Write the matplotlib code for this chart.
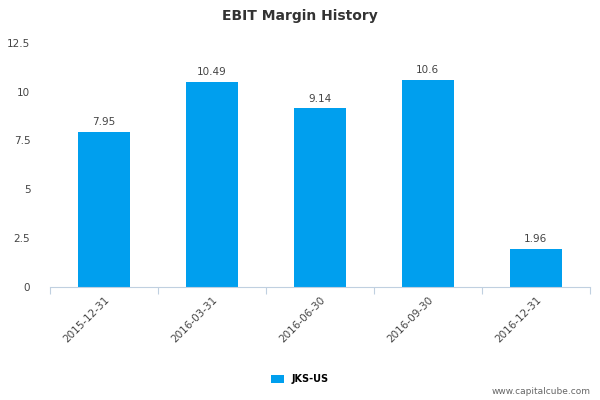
import matplotlib.pyplot as plt

categories = ["2015-12-31", "2016-03-31", "2016-06-30", "2016-09-30", "2016-12-31"]
values = [7.95, 10.49, 9.14, 10.6, 1.96]
labels = ["7.95", "10.49", "9.14", "10.6", "1.96"]
yticks = [0, 2.5, 5, 7.5, 10, 12.5]
ytick_labels = ["0", "2.5", "5", "7.5", "10", "12.5"]

color = "#009FEE"

fig = plt.figure(figsize=(6, 4), dpi=100)
ax = fig.add_axes([0.083, 0.283, 0.9, 0.61])

x = range(len(categories))
bars = ax.bar(x, values, width=0.48, color=color, label="JKS-US")
for xi, v, lab in zip(x, values, labels):
    ax.text(xi, v + 0.25, lab, ha="center", va="bottom", fontsize=7.5, color="#444444")

ax.set_xlim(-0.5, len(categories) - 0.5)
ax.set_ylim(0, 12.5)
ax.set_yticks(yticks)
ax.set_yticklabels(ytick_labels, fontsize=7.5, color="#444444")
ax.set_xticks([i - 0.5 for i in range(len(categories) + 1)], minor=False)
ax.set_xticklabels([""] * (len(categories) + 1))
ax.set_xticks(list(x), minor=True)
ax.set_xticklabels(categories, minor=True, rotation=45, ha="right",
                   rotation_mode="anchor", fontsize=7.5, color="#444444")
ax.tick_params(axis="x", which="minor", length=0, pad=6)
ax.tick_params(axis="x", which="major", length=5, color="#C0D0E0")
ax.tick_params(axis="y", length=0, pad=14)

for s in ["top", "right", "left"]:
    ax.spines[s].set_visible(False)
ax.spines["bottom"].set_color("#C0D0E0")

fig.text(0.5, 0.96, "EBIT Margin History", ha="center", va="center",
         fontsize=10, fontweight="bold", color="#333333")
fig.legend(handles=[bars], loc="center", bbox_to_anchor=(0.5, 0.052),
           frameon=False, fontsize=7, handlelength=1.3, handleheight=0.9,
           prop={"weight": "bold", "size": 7})
fig.text(0.985, 0.022, "www.capitalcube.com", ha="right", va="center",
         fontsize=6.5, color="#666666")

fig.savefig("out.png", dpi=100)
